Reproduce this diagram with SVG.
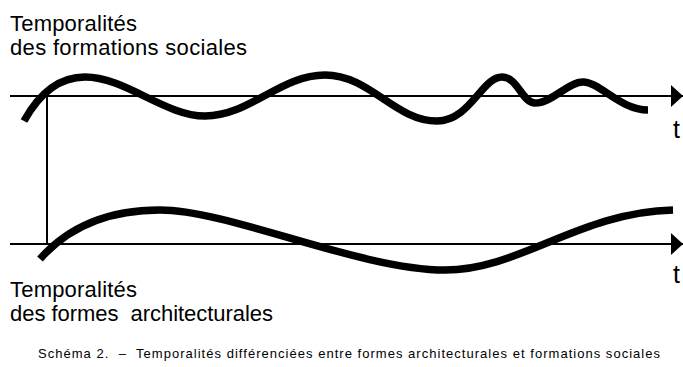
<svg xmlns="http://www.w3.org/2000/svg" width="683" height="367" viewBox="0 0 683 367">
<defs>
<style>
.lbl{font-family:"Liberation Sans",Arial,sans-serif;font-size:22px;fill:#000}
.t{font-family:"Liberation Sans",Arial,sans-serif;font-size:25px;fill:#000}
.cap{font-family:"Liberation Sans",Arial,sans-serif;font-size:13px;fill:#000}
.axis{stroke:#000;stroke-width:2;fill:none}
.curve{stroke:#000;stroke-width:7.5;fill:none;stroke-linecap:butt}
</style>
<marker id="arr" markerWidth="12" markerHeight="22" refX="12" refY="11" orient="auto" markerUnits="userSpaceOnUse">
<path d="M0,0 L12,11 L0,22 Z" fill="#000"/>
</marker>
</defs>
<rect width="683" height="367" fill="#fff"/>
<g id="connectors">
<line class="axis" x1="10" y1="96" x2="683" y2="96" marker-end="url(#arr)"/>
<line class="axis" x1="10" y1="244" x2="683" y2="244" marker-end="url(#arr)"/>
<line class="axis" x1="47" y1="96" x2="47" y2="244"/>
</g>
<g id="curve-social">
<path class="curve" d="M24,121 C40,92 60,77 85,77 C125,77 165,116 205,116 C250,116 280,75 325,75 C370,75 395,121 437,121 C470,121 482,77 502,77 C518,77 522,103 535,103 C552,103 568,82 583,82 C600,82 620,110 648,110"/>
</g>
<g id="curve-archi">
<path class="curve" d="M40,259 C70,225 110,210 160,210 C230,210 360,270 445,270 C520,270 580,212 673,210"/>
</g>
<g id="label-social">
<text class="lbl" x="10" y="31" textLength="127">Temporalités</text>
<text class="lbl" x="10" y="55" textLength="237">des formations sociales</text>
</g>
<g id="label-archi">
<text class="lbl" x="10" y="297" textLength="127">Temporalités</text>
<text class="lbl" x="10" y="321" textLength="263" xml:space="preserve">des formes  architecturales</text>
</g>
<g id="t-labels">
<text class="t" x="673" y="138">t</text>
<text class="t" x="673" y="283">t</text>
</g>
<g id="caption">
<text class="cap" x="38" y="358" textLength="622" xml:space="preserve">Schéma 2.  –  Temporalités différenciées entre formes architecturales et formations sociales</text>
</g>
</svg>
